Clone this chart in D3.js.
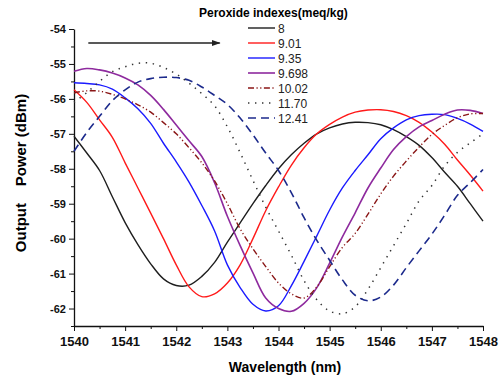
<!DOCTYPE html>
<html>
<head>
<meta charset="utf-8">
<script src="https://cdnjs.cloudflare.com/ajax/libs/d3/7.8.5/d3.min.js"></script>
<style>
  body { margin: 0; background: #fff; }
  svg { display: block; font-family: "Liberation Sans", Arial, sans-serif; }
</style>
</head>
<body>
<div id="chart"></div>
<script>
// wavelength samples (nm)
const wavelengths = [1540, 1540.25, 1540.5, 1540.75, 1541, 1541.25, 1541.5, 1541.75,
  1542, 1542.25, 1542.5, 1542.75, 1543, 1543.25, 1543.5, 1543.75,
  1544, 1544.25, 1544.5, 1544.75, 1545, 1545.25, 1545.5, 1545.75,
  1546, 1546.25, 1546.5, 1546.75, 1547, 1547.25, 1547.5, 1547.75, 1548];

// output power (dBm) for each peroxide index
const pv8 = [-57.07, -57.55, -58.05, -58.8, -59.54, -60.17, -60.72, -61.15,
  -61.34, -61.33, -61.08, -60.68, -60.1, -59.55, -59.0, -58.48,
  -58.0, -57.6, -57.27, -57.0, -56.83, -56.72, -56.67, -56.68,
  -56.74, -56.88, -57.08, -57.33, -57.68, -58.1, -58.5, -59.0, -59.5];
const pv901 = [-55.74, -56.1, -56.6, -57.1, -57.83, -58.55, -59.27, -60.0,
  -60.75, -61.38, -61.66, -61.58, -61.27, -60.75, -60.0, -59.2,
  -58.52, -57.9, -57.4, -57.0, -56.73, -56.52, -56.38, -56.32,
  -56.31, -56.36, -56.48, -56.67, -56.95, -57.3, -57.75, -58.18, -58.64];
const pv935 = [-55.54, -55.56, -55.6, -55.72, -55.97, -56.28, -56.7, -57.27,
  -57.8, -58.38, -59.05, -59.78, -60.75, -61.4, -61.88, -62.07,
  -61.92, -61.35, -60.65, -59.92, -59.18, -58.55, -58.05, -57.6,
  -57.14, -56.83, -56.6, -56.48, -56.44, -56.45, -56.56, -56.72, -56.93];
const pv9698 = [-55.21, -55.13, -55.17, -55.26, -55.4, -55.6, -55.9, -56.3,
  -56.75, -57.2, -57.65, -58.4, -59.36, -60.2, -60.98, -61.7,
  -62.0, -62.08, -61.85, -61.4, -60.7, -59.95, -59.26, -58.55,
  -57.98, -57.45, -57.08, -56.8, -56.62, -56.44, -56.32, -56.33, -56.42];
const pv1002 = [-55.83, -55.77, -55.78, -55.87, -56.0, -56.17, -56.38, -56.68,
  -57.0, -57.4, -57.83, -58.35, -59.0, -59.72, -60.29, -60.8,
  -61.27, -61.58, -61.7, -61.38, -60.8, -60.25, -59.85, -59.3,
  -58.72, -58.21, -57.78, -57.38, -57.02, -56.76, -56.54, -56.43, -56.42];
const pv1170 = [-56.1, -55.82, -55.5, -55.22, -55.08, -54.98, -54.98, -55.1,
  -55.29, -55.55, -55.85, -56.2, -56.8, -57.54, -58.33, -59.1,
  -59.78, -60.47, -61.2, -61.75, -62.07, -62.15, -61.95, -61.45,
  -60.83, -60.2, -59.57, -58.92, -58.48, -57.92, -57.53, -57.26, -57.0];
const pv1241 = [-57.5, -56.96, -56.5, -56.05, -55.74, -55.52, -55.42, -55.38,
  -55.39, -55.47, -55.66, -55.9, -56.16, -56.55, -57.03, -57.55,
  -58.05, -58.68, -59.4, -60.05, -60.62, -61.18, -61.62, -61.78,
  -61.67, -61.33, -60.83, -60.35, -59.87, -59.33, -58.76, -58.4, -58.02];

const seriesNames = ["8", "9.01", "9.35", "9.698", "10.02", "11.70", "12.41"];
const seriesValues = [pv8, pv901, pv935, pv9698, pv1002, pv1170, pv1241];

const xTicks = [1540, 1541, 1542, 1543, 1544, 1545, 1546, 1547, 1548];
const yTicks = [-54, -55, -56, -57, -58, -59, -60, -61, -62];

const styles = [
  { color: "#1e1e1e", dash: null, w: 1.4 },
  { color: "#ff1a1a", dash: null, w: 1.4 },
  { color: "#1a1aff", dash: null, w: 1.4 },
  { color: "#8e2a9e", dash: null, w: 1.6 },
  { color: "#8a1616", dash: "6,2.5,1.2,2.5,1.2,2.5", w: 1.4 },
  { color: "#333333", dash: "1.4,5.6", w: 1.5 },
  { color: "#1c2a8c", dash: "8,5", w: 1.6 }
];

const width = 503, height = 379;
const margin = { left: 74, right: 20, top: 29, bottom: 53 };

const svg = d3.select("#chart").append("svg")
  .attr("width", width)
  .attr("height", height);

const x = d3.scaleLinear().domain([1540, 1548]).range([margin.left, 483]);
const y = d3.scaleLinear().domain([-62.5, -54]).range([326, margin.top]);

// minor ticks
const xMinor = d3.range(1540.5, 1548, 1);
const yMinor = d3.range(-62.5, -54, 1);

svg.append("g")
  .attr("transform", "translate(0,326)")
  .call(d3.axisBottom(x).tickValues(xMinor).tickSize(3).tickFormat(""))
  .call(g => g.select(".domain").remove());
svg.append("g")
  .attr("transform", "translate(" + margin.left + ",0)")
  .call(d3.axisLeft(y).tickValues(yMinor).tickSize(3).tickFormat(""))
  .call(g => g.select(".domain").remove());

const xAxis = svg.append("g")
  .attr("transform", "translate(0,326)")
  .call(d3.axisBottom(x).tickValues(xTicks).tickSize(5).tickSizeOuter(0).tickPadding(6).tickFormat(d3.format("d")));
xAxis.selectAll("text").style("font-size", "13px").style("font-weight", "bold").attr("fill", "#111");

const yAxis = svg.append("g")
  .attr("transform", "translate(" + margin.left + ",0)")
  .call(d3.axisLeft(y).tickValues(yTicks).tickSize(5).tickSizeOuter(0).tickPadding(3).tickFormat(d => d));
yAxis.selectAll("text").style("font-size", "11px").style("font-weight", "bold").attr("fill", "#111");

svg.selectAll(".domain").attr("stroke", "#111").attr("stroke-width", 1.3);
svg.selectAll(".tick line").attr("stroke", "#111").attr("stroke-width", 1);

// curves
const line = d3.line()
  .x((d, i) => x(wavelengths[i]))
  .y(d => y(d))
  .curve(d3.curveCatmullRom);

seriesValues.forEach((vals, k) => {
  svg.append("path")
    .datum(vals)
    .attr("fill", "none")
    .attr("stroke", styles[k].color)
    .attr("stroke-width", styles[k].w)
    .attr("stroke-dasharray", styles[k].dash)
    .attr("d", line);
});

// arrow
svg.append("defs").append("marker")
  .attr("id", "head")
  .attr("viewBox", "0 0 10 10")
  .attr("refX", 9).attr("refY", 5)
  .attr("markerWidth", 6).attr("markerHeight", 6)
  .attr("orient", "auto")
  .append("path").attr("d", "M0,1.5L10,5L0,8.5Z").attr("fill", "#222");
svg.append("line")
  .attr("x1", x(1540.28)).attr("x2", x(1542.85))
  .attr("y1", 43).attr("y2", 43)
  .attr("stroke", "#222").attr("stroke-width", 1.5)
  .attr("marker-end", "url(#head)");

// legend
svg.append("text")
  .attr("x", 199).attr("y", 17)
  .style("font-size", "12px").style("font-weight", "bold")
  .text("Peroxide indexes(meq/kg)");

const legend = svg.append("g");
seriesNames.forEach((name, k) => {
  const ly = 28 + k * 15;
  legend.append("line")
    .attr("x1", 248).attr("x2", 275)
    .attr("y1", ly).attr("y2", ly)
    .attr("stroke", styles[k].color)
    .attr("stroke-width", styles[k].w)
    .attr("stroke-dasharray", styles[k].dash);
  legend.append("text")
    .attr("x", 278).attr("y", ly + 4.5)
    .style("font-size", "12px")
    .attr("fill", "#222")
    .text(name);
});

// axis titles
svg.append("text")
  .attr("x", 285).attr("y", 372)
  .attr("text-anchor", "middle")
  .style("font-size", "14px").style("font-weight", "bold")
  .text("Wavelength (nm)");

svg.append("text")
  .attr("transform", "translate(26,173) rotate(-90)")
  .attr("text-anchor", "middle")
  .style("font-size", "15px").style("font-weight", "bold")
  .style("white-space", "pre")
  .attr("xml:space", "preserve")
  .text("Output    Power (dBm)");
</script>
</body>
</html>
